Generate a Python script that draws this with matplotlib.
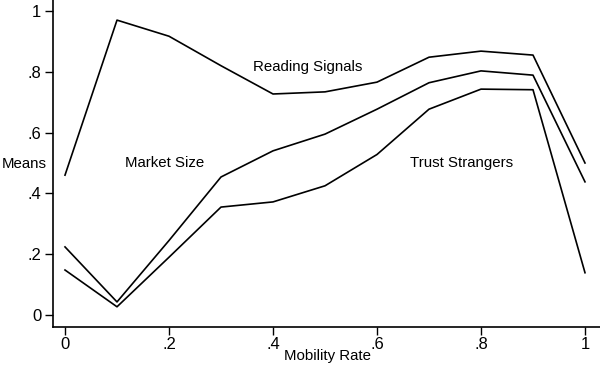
import matplotlib
matplotlib.use('Agg')
import matplotlib.pyplot as plt

plt.rcParams['font.family'] = ['Liberation Sans', 'DejaVu Sans']

# mobility rate on the x axis
mobility = [0.0, 0.1, 0.2, 0.3, 0.4, 0.5, 0.6, 0.7, 0.8, 0.9, 1.0]

# means
reading_signals = [0.46, 0.97, 0.917, 0.82, 0.727, 0.734, 0.766, 0.848, 0.868, 0.855, 0.50]
market_size = [0.224, 0.043, 0.245, 0.454, 0.54, 0.595, 0.677, 0.764, 0.803, 0.789, 0.438]
trust_strangers = [0.148, 0.027, 0.19, 0.355, 0.372, 0.425, 0.528, 0.677, 0.743, 0.741, 0.139]

xticks = [0, 0.2, 0.4, 0.6, 0.8, 1.0]
xticklabels = ['0', '.2', '.4', '.6', '.8', '1']
yticks = [0, 0.2, 0.4, 0.6, 0.8, 1.0]
yticklabels = ['0', '.2', '.4', '.6', '.8', '1']

fig = plt.figure(figsize=(6, 3.65), dpi=100)
ax = fig.add_axes([53/600., 38/365., 547/600., 327/365.])

for ys in (reading_signals, market_size, trust_strangers):
	ax.plot(mobility, ys, color='black', lw=1.2)

ax.set_xlim(-12/520., 535/520.)
ax.set_ylim(-12/304., 315/304.)

ax.set_xticks(xticks)
ax.set_xticklabels(xticklabels)
ax.set_yticks(yticks)
ax.set_yticklabels(yticklabels)
ax.tick_params(axis='both', direction='out', length=5.5, width=1, labelsize=12, colors='black')
ax.tick_params(axis='y', pad=3)
ax.tick_params(axis='x', pad=2)

for s in ('top', 'right'):
	ax.spines[s].set_visible(False)
for s in ('left', 'bottom'):
	ax.spines[s].set_linewidth(1.2)

# in-plot labels
ax.text(0.467, 0.815, 'Reading Signals', fontsize=10.8, ha='center', va='center')
ax.text(0.192, 0.5, 'Market Size', fontsize=10.8, ha='center', va='center')
ax.text(0.763, 0.5, 'Trust Strangers', fontsize=10.8, ha='center', va='center')

fig.text(24/600., 1 - 164/365., 'Means', fontsize=10.8, ha='center', va='center')
fig.text(328/600., 1 - 356/365., 'Mobility Rate', fontsize=10.8, ha='center', va='center')

fig.savefig('out.png', dpi=100)
